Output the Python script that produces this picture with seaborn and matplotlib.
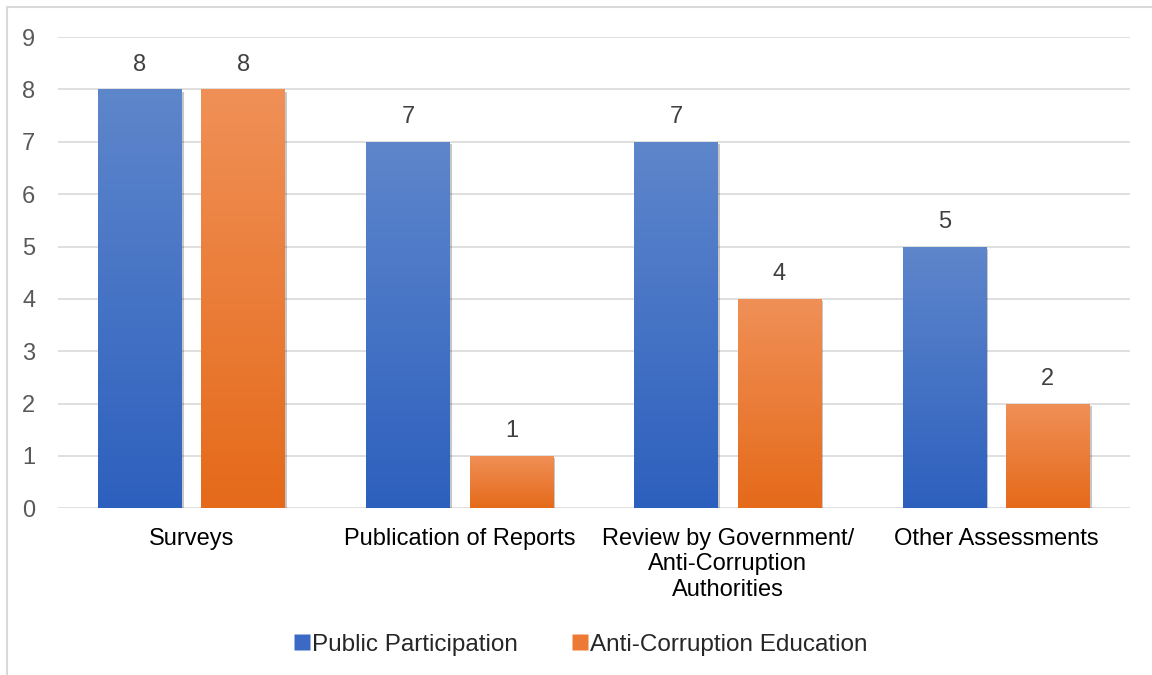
import seaborn as sns
import matplotlib.pyplot as plt
import matplotlib.patheffects as pe
from matplotlib.colors import LinearSegmentedColormap
from matplotlib.patches import Rectangle
from matplotlib.lines import Line2D
import numpy as np
import pandas as pd

categories = ["Surveys", "Publication of Reports",
              "Review by Government/\nAnti-Corruption\nAuthorities", "Other Assessments"]
public_participation = [8, 7, 7, 5]
anti_corruption_education = [8, 1, 4, 2]
series = ["Public Participation", "Anti-Corruption Education"]

df = pd.DataFrame({
    "category": categories * 2,
    "value": public_participation + anti_corruption_education,
    "series": [series[0]] * 4 + [series[1]] * 4,
})

sns.set_theme(style="white")
plt.rcParams['font.family'] = ['Liberation Sans', 'DejaVu Sans']

fig = plt.figure(figsize=(11.52, 6.75), dpi=100)
ax = fig.add_axes([0.050, 0.247, 0.931, 0.698])

pal = {series[0]: "#4472C4", series[1]: "#ED7D31"}
sns.barplot(data=df, x="category", y="value", hue="series", palette=pal,
            width=0.77, gap=0.19, ax=ax, legend=False, saturation=1)

ax.set_ylim(0, 9)
ax.set_yticks(range(10))
ax.yaxis.grid(True, color="#d9d9d9", linewidth=1.2)
ax.set_axisbelow(True)
for s in ax.spines.values():
    s.set_visible(False)
ax.set_xlabel("")
ax.set_ylabel("")
ax.tick_params(axis="y", labelsize=17, labelcolor="#595959", length=0, pad=16)
ax.tick_params(axis="x", labelsize=17, labelcolor="black", length=0, pad=14)
for lab in ax.get_xticklabels():
    lab.set_linespacing(1.22)

grads = {
    series[0]: LinearSegmentedColormap.from_list("b", ["#2D60BE", "#5E86CB"]),
    series[1]: LinearSegmentedColormap.from_list("o", ["#E56A1A", "#F09057"]),
}
grad = np.linspace(0, 1, 256).reshape(-1, 1)
for container, name in zip(ax.containers, series):
    for bar in container:
        x, y = bar.get_x(), bar.get_y()
        w, h = bar.get_width(), bar.get_height()
        bar.set_facecolor("none")
        bar.set_edgecolor("none")
        shadow = Rectangle((x, y), w, h, facecolor="white", edgecolor="none",
                           zorder=2,
                           path_effects=[pe.SimplePatchShadow(offset=(1.5, -1.5), shadow_rgbFace="#000000", alpha=0.22)])
        ax.add_patch(shadow)
        im = ax.imshow(grad, extent=(x, x + w, y, y + h), origin="lower",
                       cmap=grads[name], aspect="auto", zorder=3)
        im.set_clip_path(shadow)
    ax.bar_label(container, fontsize=17, color="#404040", padding=10)

ax.set_xlim(-0.5, 3.5)
ax.set_ylim(0, 9)

handles = [Line2D([], [], marker="s", linestyle="none", markersize=11,
                  markerfacecolor=c, markeredgecolor="none")
           for c in ["#3A6AC4", "#EC7A35"]]
fig.legend(handles, series, loc="center", bbox_to_anchor=(0.504, 0.045), ncol=2,
           frameon=False, fontsize=17.5, handletextpad=0.05, columnspacing=2.2,
           handlelength=0.7)

# chart frame (left and top edges)
fig.add_artist(Line2D([0.0065, 0.0065], [0, 0.99], color="#d9d9d9", lw=1.5, transform=fig.transFigure))
fig.add_artist(Line2D([0.0065, 1.0], [0.99, 0.99], color="#d9d9d9", lw=1.5, transform=fig.transFigure))

fig.savefig("out.png", dpi=100)
